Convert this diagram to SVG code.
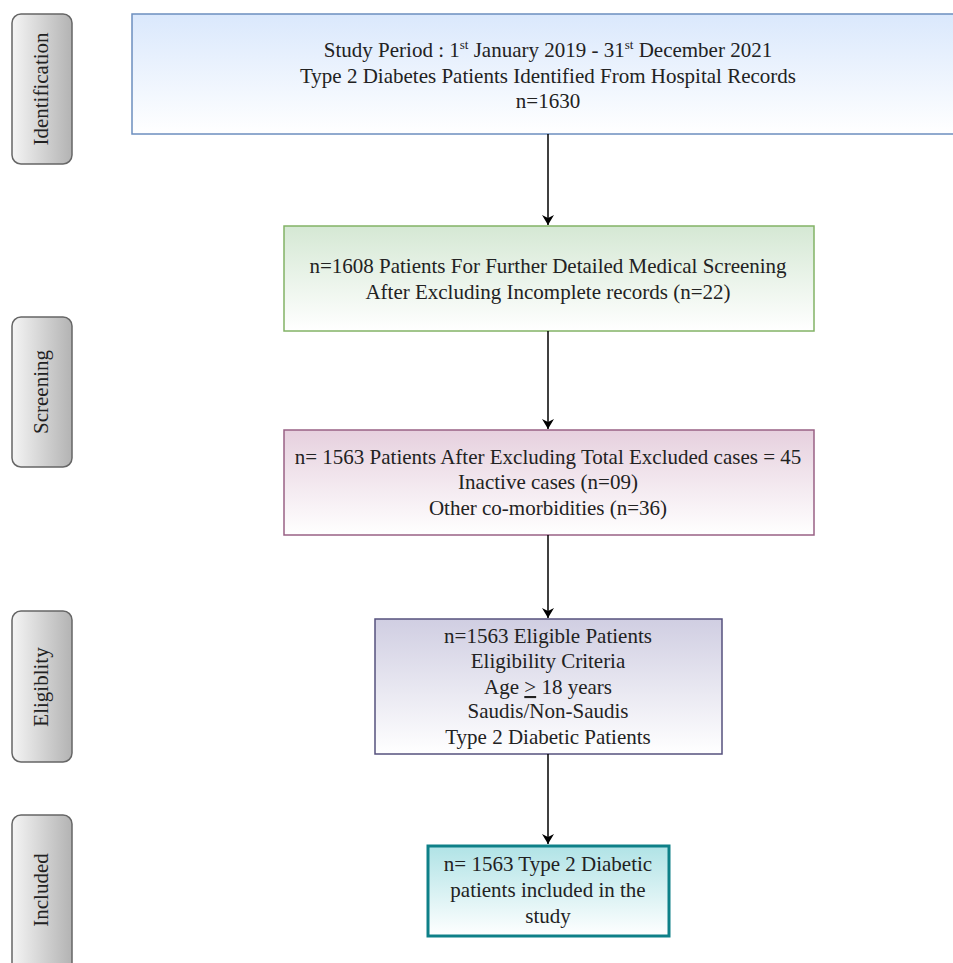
<svg xmlns="http://www.w3.org/2000/svg" width="953" height="963" viewBox="0 0 953 963">
<defs>
<linearGradient id="gSide" x1="0" y1="0" x2="1" y2="0"><stop offset="0" stop-color="#f5f5f5"/><stop offset="1" stop-color="#b3b3b3"/></linearGradient>
<linearGradient id="gBlue" x1="0" y1="0" x2="0" y2="1"><stop offset="0" stop-color="#dae8fc"/><stop offset="1" stop-color="#ffffff"/></linearGradient>
<linearGradient id="gGreen" x1="0" y1="0" x2="0" y2="1"><stop offset="0" stop-color="#d5e8d4"/><stop offset="1" stop-color="#ffffff"/></linearGradient>
<linearGradient id="gPink" x1="0" y1="0" x2="0" y2="1"><stop offset="0" stop-color="#e6d0de"/><stop offset="1" stop-color="#ffffff"/></linearGradient>
<linearGradient id="gPurple" x1="0" y1="0" x2="0" y2="1"><stop offset="0" stop-color="#d0cee2"/><stop offset="1" stop-color="#ffffff"/></linearGradient>
<linearGradient id="gTeal" x1="0" y1="0" x2="0" y2="1"><stop offset="0" stop-color="#b0e3e6"/><stop offset="1" stop-color="#ffffff"/></linearGradient>
<marker id="arr" viewBox="0 0 10 12" refX="10" refY="6" markerWidth="11" markerHeight="12" markerUnits="userSpaceOnUse" orient="auto"><path d="M0,0 L10,6 L0,12 L3,6 Z" fill="#000"/></marker>
</defs>
<style>
text{font-family:"Liberation Serif","Times New Roman",serif;fill:#222;}
.t{font-size:21px;text-anchor:middle;}
.s{font-size:21px;text-anchor:middle;}
.side rect{fill:url(#gSide);stroke:#666;stroke-width:1.5;}
.conn line{stroke:#000;stroke-width:1.5;marker-end:url(#arr);}
</style>
<rect width="953" height="963" fill="#fff"/>
<g class="side" id="lbl-identification"><rect x="12" y="14" width="60" height="150" rx="9"/><text class="s" transform="translate(48,89) rotate(-90)">Identification</text></g>
<g class="side" id="lbl-screening"><rect x="12" y="317" width="60" height="150" rx="9"/><text class="s" transform="translate(48,392) rotate(-90)">Screening</text></g>
<g class="side" id="lbl-eligibility"><rect x="12" y="611" width="60" height="151" rx="9"/><text class="s" transform="translate(48,687) rotate(-90)">Eligiblity</text></g>
<g class="side" id="lbl-included"><rect x="12" y="815" width="60" height="160" rx="9"/><text class="s" transform="translate(48,890) rotate(-90)">Included</text></g>
<g id="n-identified"><rect x="132" y="14" width="830" height="120" fill="url(#gBlue)" stroke="#6c8ebf" stroke-width="1.5"/>
<text class="t" x="548" y="57">Study Period : 1<tspan font-size="13" dy="-8">st</tspan><tspan dy="8"> January 2019 - 31</tspan><tspan font-size="13" dy="-8">st</tspan><tspan dy="8"> December 2021</tspan></text>
<text class="t" x="548" y="83">Type 2 Diabetes Patients Identified From Hospital Records</text>
<text class="t" x="548" y="108">n=1630</text></g>
<g id="n-screening"><rect x="284" y="226" width="530" height="105" fill="url(#gGreen)" stroke="#82b366" stroke-width="1.5"/>
<text class="t" x="548" y="273">n=1608 Patients For Further Detailed Medical Screening</text>
<text class="t" x="548" y="299">After Excluding Incomplete records (n=22)</text></g>
<g id="n-excluded"><rect x="284" y="430" width="530" height="105" fill="url(#gPink)" stroke="#996185" stroke-width="1.5"/>
<text class="t" x="548" y="464">n= 1563 Patients After Excluding Total Excluded cases = 45</text>
<text class="t" x="548" y="489">Inactive cases (n=09)</text>
<text class="t" x="548" y="515">Other co-morbidities (n=36)</text></g>
<g id="n-eligible"><rect x="375" y="619" width="347" height="135" fill="url(#gPurple)" stroke="#56517e" stroke-width="1.5"/>
<text class="t" x="548" y="643">n=1563 Eligible Patients</text>
<text class="t" x="548" y="668">Eligibility Criteria</text>
<text class="t" x="548" y="694">Age <tspan text-decoration="underline">&gt;</tspan> 18 years</text>
<text class="t" x="548" y="718">Saudis/Non-Saudis</text>
<text class="t" x="548" y="744">Type 2 Diabetic Patients</text></g>
<g id="n-included"><rect x="428" y="846" width="241" height="90" fill="url(#gTeal)" stroke="#0e8088" stroke-width="3"/>
<text class="t" x="548" y="871">n= 1563 Type 2 Diabetic</text>
<text class="t" x="548" y="897">patients included in the</text>
<text class="t" x="548" y="923">study</text></g>
<g class="conn" id="connectors">
<line x1="548" y1="134" x2="548" y2="225"/>
<line x1="548" y1="331" x2="548" y2="429"/>
<line x1="548" y1="535" x2="548" y2="618"/>
<line x1="548" y1="754" x2="548" y2="844"/>
</g>
</svg>
